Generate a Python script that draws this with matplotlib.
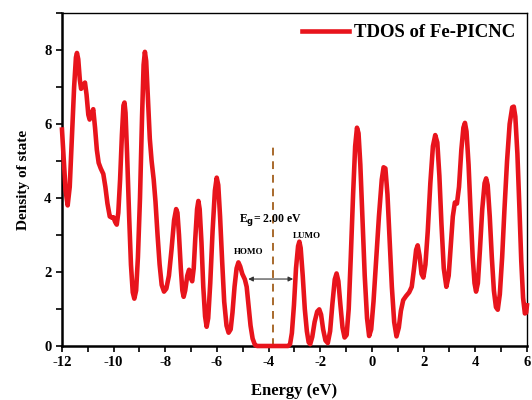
import matplotlib
matplotlib.use('Agg')
import matplotlib.pyplot as plt
from matplotlib.ticker import MultipleLocator

plt.rcParams['font.family'] = ['Liberation Serif', 'DejaVu Serif']
plt.rcParams['font.weight'] = 'bold'
plt.rcParams['axes.unicode_minus'] = False

# energy (eV) and total DOS
energy = [-12.00, -11.93, -11.86, -11.78, -11.70, -11.62, -11.53, -11.46, -11.42, -11.37,
          -11.31, -11.26, -11.18, -11.11, -11.05, -10.98, -10.93, -10.85, -10.79, -10.72,
          -10.65, -10.58, -10.50, -10.40, -10.32, -10.24, -10.15, -10.07, -10.01, -9.94,
          -9.88, -9.82, -9.75, -9.68, -9.62, -9.58, -9.54, -9.48, -9.40, -9.33,
          -9.26, -9.20, -9.13, -9.06, -8.98, -8.90, -8.84, -8.79, -8.74, -8.68,
          -8.60, -8.53, -8.45, -8.38, -8.30, -8.22, -8.14, -8.05, -7.96, -7.86,
          -7.76, -7.66, -7.58, -7.53, -7.47, -7.40, -7.34, -7.29, -7.23, -7.15,
          -7.08, -7.02, -6.96, -6.90, -6.84, -6.77, -6.72, -6.67, -6.60, -6.53,
          -6.46, -6.40, -6.34, -6.26, -6.17, -6.08, -6.01, -5.95, -5.88, -5.80,
          -5.72, -5.63, -5.55, -5.47, -5.40, -5.32, -5.24, -5.17, -5.10, -5.02,
          -4.92, -4.85, -4.78, -4.70, -4.62, -4.53, -4.45, -3.25, -3.17, -3.10,
          -3.02, -2.94, -2.86, -2.81, -2.76, -2.68, -2.60, -2.52, -2.45, -2.39,
          -2.31, -2.22, -2.12, -2.04, -1.97, -1.89, -1.80, -1.71, -1.62, -1.53,
          -1.44, -1.37, -1.30, -1.22, -1.14, -1.06, -0.98, -0.90, -0.82, -0.73,
          -0.65, -0.58, -0.52, -0.45, -0.37, -0.28, -0.19, -0.11, -0.03, 0.06,
          0.16, 0.27, 0.38, 0.45, 0.52, 0.60, 0.68, 0.77, 0.86, 0.95,
          1.04, 1.12, 1.21, 1.32, 1.44, 1.54, 1.63, 1.71, 1.77, 1.84,
          1.92, 1.99, 2.07, 2.16, 2.26, 2.36, 2.45, 2.53, 2.61, 2.69,
          2.78, 2.88, 2.97, 3.05, 3.13, 3.21, 3.29, 3.37, 3.46, 3.54,
          3.60, 3.66, 3.74, 3.82, 3.90, 3.97, 4.03, 4.10, 4.18, 4.27,
          4.36, 4.42, 4.48, 4.56, 4.64, 4.72, 4.80, 4.87, 4.95, 5.04,
          5.13, 5.23, 5.33, 5.43, 5.49, 5.55, 5.63, 5.71, 5.78, 5.85,
          5.92, 5.97, 6.00]
tdos = [5.85, 5.00, 4.20, 3.80, 4.30, 5.60, 7.00, 7.80, 7.92, 7.75,
        7.20, 6.95, 7.05, 7.12, 6.80, 6.25, 6.12, 6.30, 6.40, 5.90,
        5.30, 4.95, 4.80, 4.65, 4.30, 3.85, 3.50, 3.47, 3.48, 3.35,
        3.28, 3.60, 4.50, 5.70, 6.50, 6.58, 6.30, 5.20, 3.50, 2.20,
        1.45, 1.28, 1.50, 2.40, 4.00, 6.20, 7.60, 7.95, 7.70, 6.80,
        5.60, 5.00, 4.50, 3.90, 3.00, 2.20, 1.65, 1.47, 1.55, 1.90,
        2.60, 3.40, 3.70, 3.60, 3.00, 2.10, 1.50, 1.33, 1.50, 1.90,
        2.06, 1.85, 1.75, 2.10, 2.90, 3.70, 3.92, 3.70, 2.80, 1.60,
        0.80, 0.52, 0.75, 1.70, 3.10, 4.20, 4.55, 4.35, 3.50, 2.30,
        1.20, 0.55, 0.36, 0.45, 0.90, 1.60, 2.10, 2.26, 2.15, 1.95,
        1.80, 1.60, 1.10, 0.55, 0.20, 0.03, 0.00, 0.00, 0.05, 0.35,
        1.10, 2.10, 2.70, 2.82, 2.65, 1.90, 1.00, 0.40, 0.10, 0.05,
        0.25, 0.65, 0.93, 0.99, 0.85, 0.45, 0.15, 0.08, 0.40, 1.15,
        1.80, 1.96, 1.75, 1.10, 0.50, 0.23, 0.30, 1.00, 2.40, 4.10,
        5.40, 5.90, 5.75, 4.90, 3.50, 1.90, 0.75, 0.27, 0.45, 1.20,
        2.30, 3.50, 4.50, 4.83, 4.80, 4.10, 2.90, 1.60, 0.65, 0.26,
        0.50, 0.95, 1.24, 1.35, 1.45, 1.60, 2.10, 2.60, 2.72, 2.45,
        1.95, 1.85, 2.20, 3.10, 4.40, 5.40, 5.70, 5.50, 4.60, 3.30,
        2.10, 1.60, 1.90, 2.70, 3.50, 3.88, 3.85, 4.30, 5.30, 5.90,
        6.03, 5.80, 4.90, 3.60, 2.40, 1.70, 1.47, 1.70, 2.60, 3.70,
        4.40, 4.53, 4.35, 3.50, 2.40, 1.50, 1.05, 0.98, 1.40, 2.40,
        3.70, 5.00, 6.00, 6.45, 6.47, 6.20, 5.20, 3.70, 2.30, 1.30,
        0.88, 0.90, 1.10]

fermi_x = -3.84
fermi_top = 5.4
homo_e = -4.79
lumo_e = -3.05
arrow_y = 1.81

fig = plt.figure(figsize=(5.32, 4.0), dpi=100)
ax = fig.add_axes([0.1165, 0.135, 0.874, 0.8325])

ax.plot(energy, tdos, color='#e8141c', lw=3.3, label='TDOS of Fe-PICNC',
        clip_on=False, zorder=3, solid_joinstyle='round')

ax.plot([fermi_x, fermi_x], [0, fermi_top], ls=(0, (4, 3)), color='#a8692c', lw=1.4)
ax.annotate('', xy=(lumo_e, arrow_y), xytext=(homo_e, arrow_y),
            arrowprops=dict(arrowstyle='<|-|>', color='#333333', lw=0.8,
                            mutation_scale=7, shrinkA=0, shrinkB=0))
ax.text(-5.15, 3.4, r'E$_\mathbf{g}$= 2.00 eV', fontsize=8.5, fontweight='bold',
        ha='left', va='center')
ax.text(-4.76, 2.53, 'HOMO', fontsize=6.5, fontweight='bold', ha='center', va='center')
ax.text(-2.5, 2.98, 'LUMO', fontsize=6.5, fontweight='bold', ha='center', va='center')

ax.set_xlim(-12, 6)
ax.set_ylim(0, 9)
ax.xaxis.set_major_locator(MultipleLocator(2))
ax.xaxis.set_minor_locator(MultipleLocator(1))
ax.yaxis.set_major_locator(MultipleLocator(2))
ax.yaxis.set_minor_locator(MultipleLocator(1))
ax.tick_params(which='both', direction='out', width=1.2, length=4, labelsize=10.5)
ax.tick_params(axis='x', pad=3)

for s in ['left', 'bottom']:
    ax.spines[s].set_linewidth(1.8)
for s in ['top', 'right']:
    ax.spines[s].set_linewidth(1.0)

ax.set_xlabel('Energy (eV)', fontsize=12, fontweight='bold', labelpad=10)
ax.set_ylabel('Density of state', fontsize=11, fontweight='bold', labelpad=10)

leg = ax.legend(loc='upper right', frameon=False, fontsize=13.5, handlelength=2.5,
                borderaxespad=0.2, handletextpad=0.3)
for t in leg.get_texts():
    t.set_fontweight('bold')

fig.savefig('out.png', dpi=100)
